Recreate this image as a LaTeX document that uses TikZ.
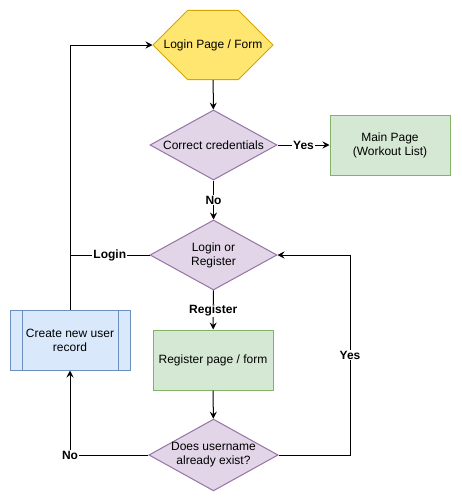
\documentclass[tikz,border=0pt]{standalone}
\usepackage{fontspec}
\setmainfont{Liberation Sans}
\usepackage{tikz}
\usetikzlibrary{arrows.meta,shapes.geometric,shapes.misc,positioning}
\definecolor{amarillo}{HTML}{FFE670}
\definecolor{amarilloBorde}{HTML}{D6A500}
\definecolor{lila}{HTML}{E1D5E7}
\definecolor{lilaBorde}{HTML}{9673A6}
\definecolor{verde}{HTML}{D5E8D4}
\definecolor{verdeBorde}{HTML}{82B366}
\definecolor{azul}{HTML}{DAE8FC}
\definecolor{azulBorde}{HTML}{6C8EBF}
\tikzset{
  inicio/.style={chamfered rectangle,chamfered rectangle xsep=31pt,chamfered rectangle ysep=29pt,
    minimum width=120pt,minimum height=58pt,inner sep=0pt,fill=amarillo,draw=amarilloBorde,align=center},
  decision/.style={diamond,minimum width=127pt,minimum height=70pt,inner sep=0pt,aspect=1.8,
    fill=lila,draw=lilaBorde,align=center},
  pagina/.style={rectangle,minimum width=120pt,minimum height=60pt,fill=verde,draw=verdeBorde,align=center},
  proceso/.style={rectangle,minimum width=120pt,minimum height=60pt,fill=azul,draw=azulBorde,align=center,
    path picture={
      \draw[azulBorde,line width=1pt] ([xshift=12pt]path picture bounding box.north west) -- ([xshift=12pt]path picture bounding box.south west);
      \draw[azulBorde,line width=1pt] ([xshift=-12pt]path picture bounding box.north east) -- ([xshift=-12pt]path picture bounding box.south east);
    }},
  flecha/.style={-{Stealth[length=7pt,width=7pt,inset=2.5pt]}},
  etiqueta/.style={fill=white,inner sep=1pt,font=\fontsize{12}{14}\selectfont\bfseries}
}

\begin{document}
\begin{tikzpicture}[x=1pt,y=-1pt,line width=1pt,font=\fontsize{12}{14}\selectfont]
\useasboundingbox (0,0) rectangle (461,501);
\node[inicio] (login) at (213,45) {Login Page / Form};
\node[decision] (cred) at (213.5,145) {Correct credentials};
\node[pagina] (main) at (390,145) {Main Page\\(Workout List)};
\node[decision] (elegir) at (213.5,255) {Login or\\Register};
\node[pagina] (registro) at (213,360) {Register page / form};
\node[decision] (existe) at (213.5,455) {Does username\\already exist?};
\node[proceso] (crear) at (70,340) {Create new user\\record};
% codos de las lineas
\coordinate (codoA) at (70,45);
\coordinate (codoB) at (70,255);
\coordinate (codoC) at (350,455);
\coordinate (codoD) at (350,255);
\coordinate (codoE) at (70,455);
% conexiones
\draw[flecha] (login) -- (cred);
\draw[flecha] (cred) -- node[etiqueta] {Yes} (main);
\draw[flecha] (cred) -- node[etiqueta,pos=0.5] {No} (elegir);
\draw[flecha] (elegir) -- node[etiqueta,pos=0.52] {Register} (registro);
\draw[flecha] (registro) -- (existe);
\draw[flecha] (crear.north) -- (codoA) -- (login.west);
\draw (elegir.west) -- node[etiqueta] {Login} (codoB);
\draw[flecha] (existe.east) -- (codoC) -- node[etiqueta] {Yes} (codoD) -- (elegir.east);
\draw[flecha] (existe.west) -- (codoE) node[etiqueta] {No} -- (crear.south);
\end{tikzpicture}
\end{document}
